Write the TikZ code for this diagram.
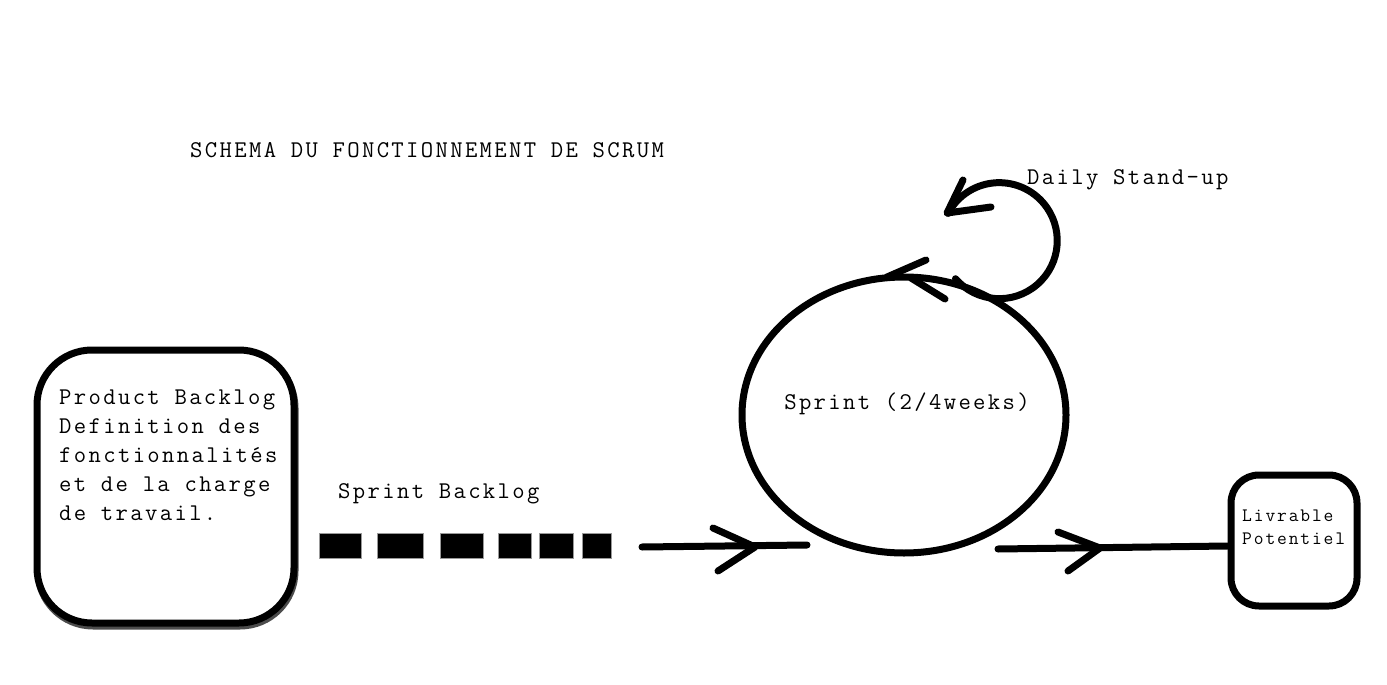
\documentclass[tikz,border=0pt]{standalone}
\usepackage{fontspec}
\setmonofont{Latin Modern Mono}[LetterSpace=9.8]
\usetikzlibrary{shapes.geometric,calc}
\begin{document}
\begin{tikzpicture}[x=1pt,y=1pt,
  thick line/.style={line width=7pt,line cap=round,line join=round},
  txt/.style={font=\ttfamily\fontsize{24}{29}\selectfont,inner sep=0pt},
  smalltxt/.style={font=\ttfamily\fontsize{19}{23}\selectfont,inner sep=0pt},
  blk/.style={fill=black,draw=gray!80,line width=1pt,minimum height=25pt,inner sep=0pt}]
\useasboundingbox (0,0) rectangle (1387,-685);
% title
\node[txt,anchor=base west] (title) at (190,-157) {SCHEMA DU FONCTIONNEMENT DE SCRUM};
% product backlog
\node[draw=black!70,line width=7pt,rounded corners=55pt,minimum width=257pt,minimum height=273pt,inner sep=0pt] (pbs) at (166.5,-489.5) {};
\node[draw=black,fill=white,line width=7pt,rounded corners=55pt,minimum width=257pt,minimum height=273pt,inner sep=0pt] (pb) at (165.5,-486.5) {};
\node[txt,anchor=north west,align=left] (pbt) at (59,-390) {Product Backlog\\Definition des\\fonctionnalités\\et de la charge\\de travail.};
% sprint backlog
\node[txt,anchor=base west] (sbt) at (338,-498) {Sprint Backlog};
\node[blk,minimum width=42pt] (b1) at (340,-545.5) {};
\node[blk,minimum width=46pt] (b2) at (400,-545.5) {};
\node[blk,minimum width=43pt] (b3) at (461.5,-545.5) {};
\node[blk,minimum width=33pt] (b4) at (514.5,-545.5) {};
\node[blk,minimum width=34pt] (b5) at (556,-545.5) {};
\node[blk,minimum width=29pt] (b6) at (596.5,-545.5) {};
% sprint
\node[draw,ellipse,line width=7pt,minimum width=324pt,minimum height=276pt,inner sep=0pt] (sp) at (904,-415) {};
\node[txt] (spt) at (907,-404) {Sprint (2/4weeks)};
% arrow 1
\coordinate (a1s) at (642,-547);
\coordinate (a1e) at (807,-545);
\draw[thick line] (a1s) -- (a1e);
\coordinate (a1t) at (755,-547);
\draw[thick line] (713,-528) -- (a1t) -- (718,-571);
% daily stand-up loop
\node[txt,anchor=base west] (dst) at (1027,-184) {Daily Stand-up};
\coordinate (lc) at (1000,-240);
\coordinate (ls) at ($(lc)+(-139:59)$);
\draw[thick line] (ls) arc[start angle=-139,end angle=152,radius=58];
\coordinate (lt) at (947,-213);
\draw[thick line] (963,-180) -- (lt) -- (991,-207);
% chevron on circle top
\draw[thick line] (926,-260) -- (887,-277);
\draw[thick line] (945,-299) -- (911,-278);
% arrow 2
\node[draw,line width=7pt,rounded corners=28pt,minimum width=126pt,minimum height=131pt,inner sep=0pt] (lv) at (1294,-540.5) {};
\node[smalltxt,anchor=north west,align=left] (lvt) at (1242,-510) {Livrable\\Potentiel};
\coordinate (a2s) at (998,-549);
\draw[thick line] (a2s) -- (lv.west |- 0,-546);
\coordinate (a2t) at (1100,-548);
\draw[thick line] (1058,-532) -- (a2t) -- (1068,-571);
\end{tikzpicture}
\end{document}
